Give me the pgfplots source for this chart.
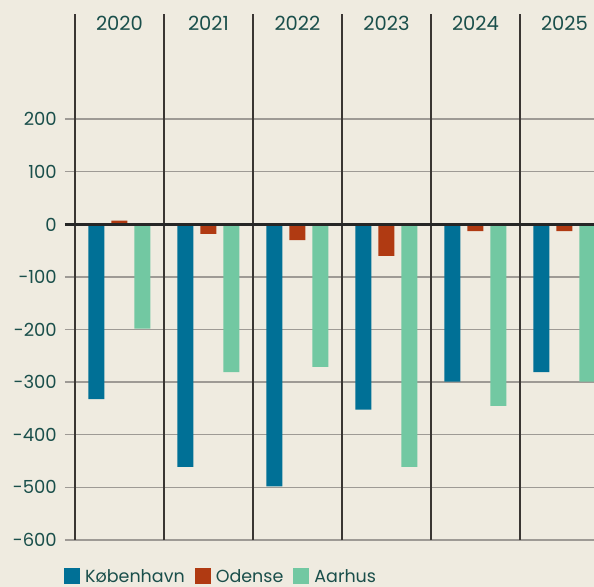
\documentclass[border=0pt]{standalone}
\usepackage{fontspec}
\setmainfont{Poppins}
\usepackage{pgfplots}
\pgfplotsset{compat=1.18}
\definecolor{bg}{HTML}{EFEBE0}
\definecolor{kbh}{HTML}{007096}
\definecolor{ode}{HTML}{B03A12}
\definecolor{aar}{HTML}{72C8A2}
\definecolor{txt}{HTML}{1A4F4B}
\definecolor{grd}{HTML}{9E9A95}
\definecolor{vln}{HTML}{3A3633}
\pgfplotsset{sq/.style={legend image code/.code={\fill[##1,draw=none] (0bp,-8bp) rectangle (16bp,8bp); \path (19bp,0bp);}}}
\begin{document}
\begin{tikzpicture}
\useasboundingbox[fill=bg] (-65bp,-47bp) rectangle (529bp,540bp);
\begin{axis}[
  at={(0,0)}, anchor=south west,
  x=89bp, y=0.526bp,
  xmin=-0.612, xmax=5.332, ymin=-600, ymax=400,
  ybar=7bp, bar width=16bp,
  axis line style={draw=none},
  major tick length=0pt,
  xtick=\empty,
  extra x ticks={-0.5,0.5,1.5,2.5,3.5,4.5},
  extra x tick labels={},
  extra x tick style={grid=major, major grid style={vln, line width=1.1bp}},
  ytick={-600,-500,-400,-300,-200,-100,0,100,200},
  yticklabels={-600,-500,-400,-300,-200,-100,0,100,200},
  ymajorgrids,
  grid style={grd, line width=1.4bp},
  yticklabel style={font=\fontsize{18bp}{20bp}\selectfont, text=txt, inner sep=0pt, anchor=east, xshift=-8bp},
  legend style={at={(0,0)}, anchor=north west, yshift=-25bp, xshift=-4bp, draw=none, fill=none,
    font=\fontsize{17.5bp}{20bp}\selectfont, text=txt, legend columns=-1,
    /tikz/every even column/.append style={column sep=8bp}},
]
\addplot[fill=kbh, draw=none, sq] coordinates {(0,-332) (1,-461) (2,-498) (3,-352) (4,-299) (5,-281)};
\addplot[fill=ode, draw=none, sq] coordinates {(0,7) (1,-18) (2,-30) (3,-60) (4,-13) (5,-13)};
\addplot[fill=aar, draw=none, sq] coordinates {(0,-198) (1,-281) (2,-271) (3,-461) (4,-345) (5,-299)};
\legend{København, Odense, Aarhus}
\draw[black!85, line width=2.3bp] (axis cs:-0.612,0) -- (axis cs:5.332,0);
\node[font=\fontsize{19.5bp}{20bp}\selectfont, text=txt] at (axis cs:0,382) {2020};
\node[font=\fontsize{19.5bp}{20bp}\selectfont, text=txt] at (axis cs:1,382) {2021};
\node[font=\fontsize{19.5bp}{20bp}\selectfont, text=txt] at (axis cs:2,382) {2022};
\node[font=\fontsize{19.5bp}{20bp}\selectfont, text=txt] at (axis cs:3,382) {2023};
\node[font=\fontsize{19.5bp}{20bp}\selectfont, text=txt] at (axis cs:4,382) {2024};
\node[font=\fontsize{19.5bp}{20bp}\selectfont, text=txt] at (axis cs:5,382) {2025};
\end{axis}
\end{tikzpicture}
\end{document}
